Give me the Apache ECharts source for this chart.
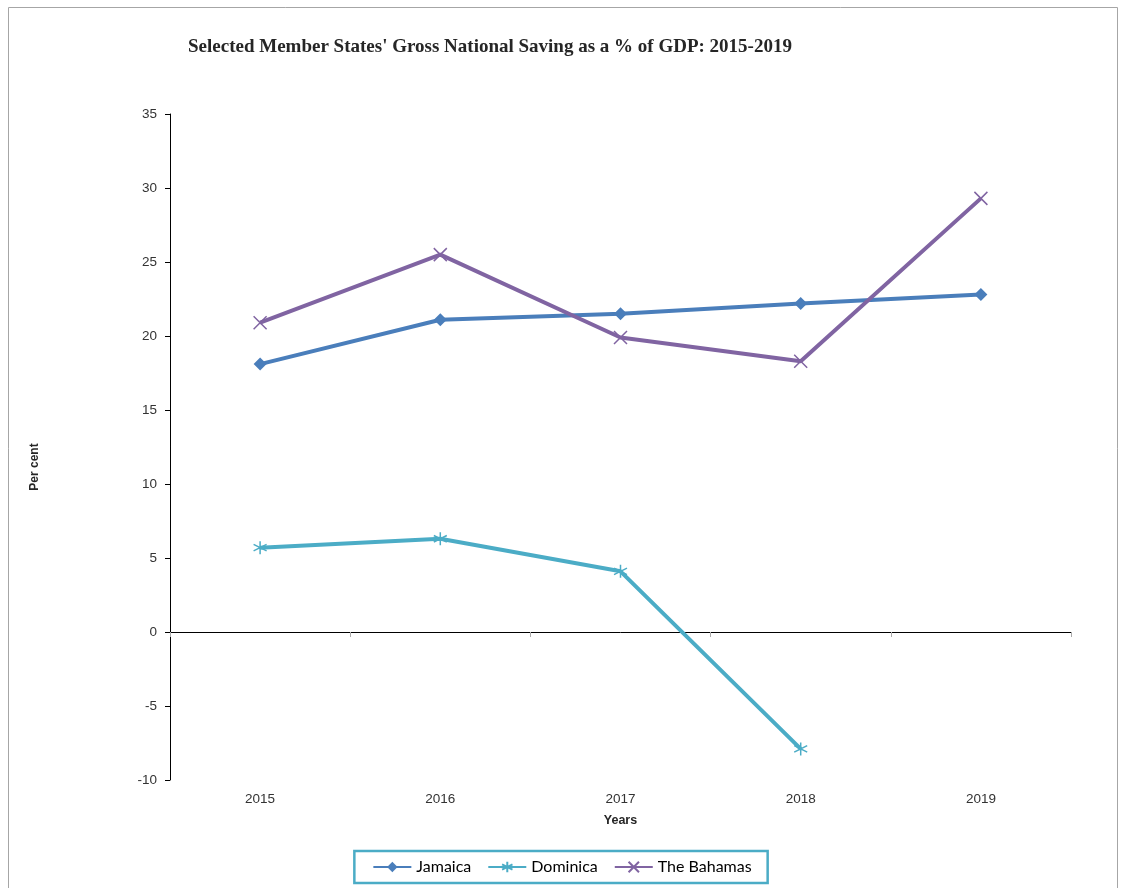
<!DOCTYPE html>
<html><head><meta charset="utf-8">
<script src="https://cdn.jsdelivr.net/npm/echarts@6/dist/echarts.min.js"></script>
<style>html,body{margin:0;padding:0;background:#fff}#c{width:1124px;height:888px}</style>
</head><body><div id="c"></div>
<script>
const years = ['2015','2016','2017','2018','2019'];
const jamaica = [18.1, 21.1, 21.5, 22.2, 22.8];
const dominica = [5.7, 6.3, 4.1, -7.9, null];
const bahamas = [20.9, 25.5, 19.9, 18.3, 29.3];
const seriesNames = ['Jamaica', 'Dominica', 'The Bahamas'];
const colors = ['#4a7ebb', '#4bacc6', '#8064a2'];

const chart = echarts.init(document.getElementById('c'));
const starPath = 'path://M5,0L5,10M0.7,2.5L9.3,7.5M0.7,7.5L9.3,2.5';
const xPath = 'path://M0,0L10,10M10,0L0,10';
chart.setOption({
  animation: false,
  title: {
    text: "Selected Member States' Gross National Saving as a % of GDP: 2015-2019",
    left: 183, top: 33,
    textStyle: {fontFamily: 'Liberation Serif', fontWeight: 'bold', fontSize: 19, color: '#262626'}
  },
  graphic: [
    {type: 'rect', shape: {x: 8.5, y: 7.5, width: 1109, height: 900}, style: {fill: 'none', stroke: '#a6a6a6', lineWidth: 1}, silent: true},
    {type: 'text', x: 35, y: 467, rotation: Math.PI / 2,
     style: {text: 'Per cent', font: 'bold 12px Liberation Sans', fill: '#262626', textAlign: 'center', textVerticalAlign: 'middle'}}
  ],
  legend: {
    data: seriesNames,
    left: 'center', top: 851,
    padding: [8, 16, 8, 18],
    borderColor: '#4bacc6', borderWidth: 2.5,
    itemWidth: 38, itemHeight: 13, itemGap: 16,
    textStyle: {fontFamily: 'Lato', fontSize: 16, color: '#000'}
  },
  grid: {left: 170, right: 53, top: 114, bottom: 108},
  xAxis: [
    {type: 'category', data: years, boundaryGap: true,
     axisLine: {onZero: true, lineStyle: {color: '#000', width: 1}},
     axisTick: {show: true, length: 5, lineStyle: {color: '#aaa'}},
     axisLabel: {show: false}},
    {type: 'category', data: years, boundaryGap: true, position: 'bottom',
     axisLine: {show: false, onZero: false}, axisTick: {show: false},
     axisLabel: {margin: 12, fontFamily: 'Liberation Sans', fontSize: 13.5, color: '#333'},
     name: 'Years', nameLocation: 'middle', nameGap: 34,
     nameTextStyle: {fontFamily: 'Liberation Sans', fontWeight: 'bold', fontSize: 12.5, color: '#262626'}}
  ],
  yAxis: {
    type: 'value', min: -10, max: 35, interval: 5,
    axisLine: {show: true, lineStyle: {color: '#000', width: 1}},
    axisTick: {show: true, length: 5, lineStyle: {color: '#000'}},
    axisLabel: {margin: 13, fontFamily: 'Liberation Sans', fontSize: 13.5, color: '#333'},
    splitLine: {show: false}
  },
  series: [
    {name: seriesNames[0], type: 'line', data: jamaica, xAxisIndex: 0, color: colors[0],
     symbol: 'diamond', symbolSize: 13,
     lineStyle: {width: 4, color: colors[0]}, itemStyle: {color: colors[0]}},
    {name: seriesNames[1], type: 'line', data: dominica, xAxisIndex: 0, color: colors[1],
     symbol: starPath, symbolSize: 13,
     lineStyle: {width: 4, color: colors[1]},
     itemStyle: {color: 'none', borderColor: colors[1], borderWidth: 1.5}},
    {name: seriesNames[2], type: 'line', data: bahamas, xAxisIndex: 0, color: colors[2],
     symbol: xPath, symbolSize: 13,
     lineStyle: {width: 4, color: colors[2]},
     itemStyle: {color: 'none', borderColor: colors[2], borderWidth: 1.5}}
  ]
});
</script></body></html>
